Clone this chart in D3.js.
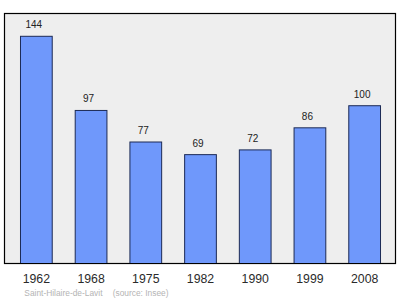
<!DOCTYPE html>
<html><head><meta charset="utf-8">
<script src="https://cdn.jsdelivr.net/npm/d3@7"></script>
<style>body{margin:0;background:#fff;} svg{display:block;font-family:"Liberation Sans",Arial,sans-serif;}</style>
</head><body>
<script>
const years = ["1962","1968","1975","1982","1990","1999","2008"];
const population = [144, 97, 77, 69, 72, 86, 100];
const placeLabel = "Saint-Hilaire-de-Lavit";
const sourceLabel = "(source: Insee)";

const W = 400, H = 299;
const svg = d3.select("body").append("svg").attr("width", W).attr("height", H);

const frame = {x0: 4.5, y0: 13.5, x1: 395.5, y1: 263.5};
svg.append("rect").attr("x", frame.x0).attr("y", frame.y0)
  .attr("width", frame.x1 - frame.x0).attr("height", frame.y1 - frame.y0)
  .attr("fill", "#eeeeee").attr("stroke", "#000").attr("stroke-width", 1.2);

const x = d3.scaleBand().domain(years).range([9, 392]).paddingInner(0.42).paddingOuter(0.21);
const y = d3.scaleLinear().domain([0, 144]).range([263.5, 36.3]);

const data = years.map((yr, i) => ({yr, v: population[i]}));

svg.selectAll("rect.bar").data(data).enter().append("rect").attr("class", "bar")
  .attr("x", d => x(d.yr)).attr("y", d => y(d.v))
  .attr("width", x.bandwidth()).attr("height", d => y(0) - y(d.v))
  .attr("fill", "#6f98fb").attr("stroke", "#1c2a55").attr("stroke-width", 1);

svg.append("line").attr("x1", frame.x0).attr("x2", frame.x1).attr("y1", frame.y1).attr("y2", frame.y1)
  .attr("stroke", "#000").attr("stroke-width", 1.2);

svg.selectAll("text.val").data(data).enter().append("text").attr("class", "val")
  .attr("x", d => x(d.yr) + x.bandwidth() / 2 - 2.5).attr("y", d => y(d.v) - 8)
  .attr("text-anchor", "middle").attr("font-size", 10).attr("fill", "#222").text(d => d.v);

const xAxis = d3.axisBottom(x).tickSize(0).tickPadding(0);
const g = svg.append("g").attr("transform", `translate(0,${frame.y1})`).call(xAxis);
g.select(".domain").remove();
g.selectAll("text").attr("font-size", 12.3).attr("fill", "#2a2a2a")
  .attr("font-family", "'Liberation Sans',Arial,sans-serif").attr("dy", 0).attr("y", 19);

svg.append("text").attr("x", 24.3).attr("y", 295.5).attr("font-size", 8.4).attr("fill", "#b4b4b4")
  .text(placeLabel);
svg.append("text").attr("x", 112.7).attr("y", 295.5).attr("font-size", 8.4).attr("fill", "#b4b4b4")
  .text(sourceLabel);
</script>
</body></html>
